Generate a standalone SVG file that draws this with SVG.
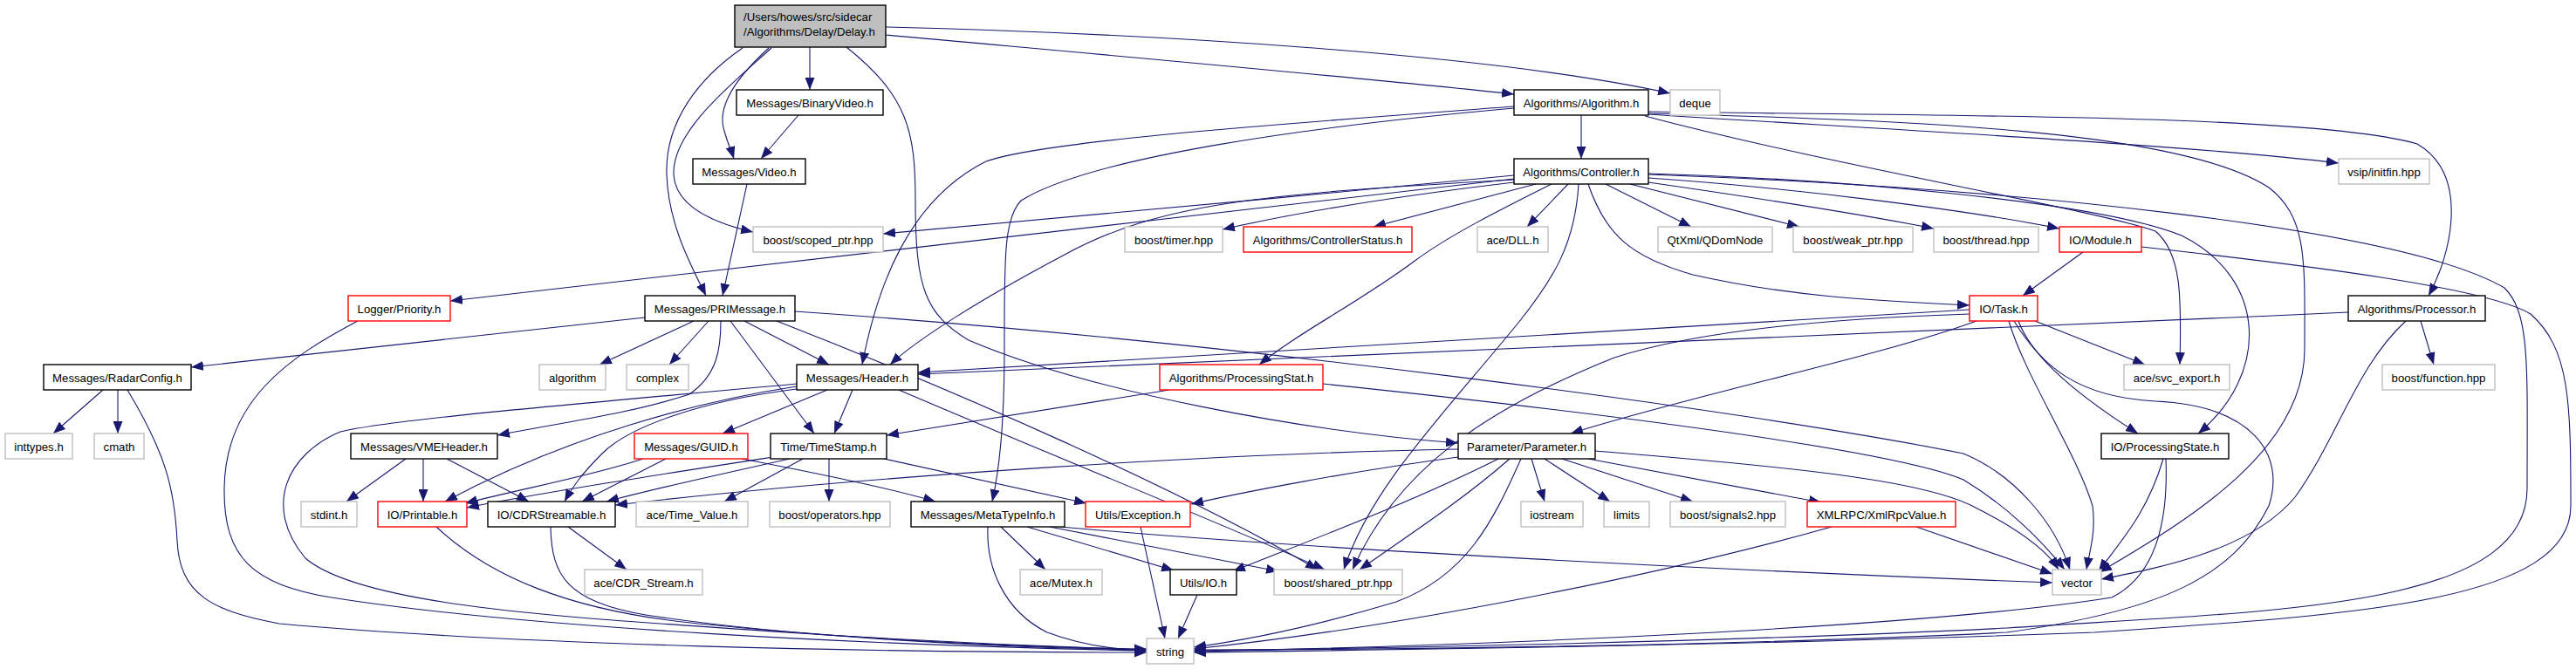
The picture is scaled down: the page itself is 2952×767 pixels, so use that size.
<svg xmlns="http://www.w3.org/2000/svg" width="2952" height="767" viewBox="0 0 2952 767">
<defs>
<marker id="ah" markerUnits="userSpaceOnUse" viewBox="0 0 14 11" refX="14" refY="5.5" markerWidth="14" markerHeight="11" orient="auto">
<path d="M0,0 L14,5.5 L0,11 z" fill="#191970"/>
</marker>
<style>
.e{fill:none;stroke:#191970;stroke-width:1.1;marker-end:url(#ah)}
.nb{fill:#ffffff;stroke:#000000;stroke-width:1.4}
.ng{fill:#ffffff;stroke:#bfbfbf;stroke-width:1.4}
.nr{fill:#ffffff;stroke:#ff0000;stroke-width:1.4}
.root{fill:#bfbfbf;stroke:#000000;stroke-width:1.4}
.t{font-family:"Liberation Sans",Arial,Helvetica,sans-serif;font-size:13.2px;fill:#000000;text-anchor:middle}
.tl{font-family:"Liberation Sans",Arial,Helvetica,sans-serif;font-size:13.2px;fill:#000000;text-anchor:start}
</style>
</defs>
<rect width="2952" height="767" fill="#ffffff"/>
<g id="edges">
<path class="e" d="M928,54 L928,103"/>
<path class="e" d="M881,55 C848,85 820,120 830,150 C834,165 838,172 841,182"/>
<path class="e" d="M884,55 C840,95 770,150 772,200 C774,235 815,255 863,266"/>
<path class="e" d="M851,55 C800,90 762,140 764,200 C766,260 795,310 809,339"/>
<path class="e" d="M1015,40 C1300,66 1550,88 1735,108"/>
<path class="e" d="M1015,31 C1300,38 1700,60 1914,107"/>
<path class="e" d="M970,54 C1040,110 1049,150 1049,230 C1049,330 1060,360 1110,390 C1250,450 1500,495 1671,508"/>
<path class="e" d="M915,132 L872,182"/>
<path class="e" d="M856,211 L828,339"/>
<path class="e" d="M1812,132 L1812,182"/>
<path class="e" d="M1735,122 C1500,140 1200,160 1130,185 C1040,230 1005,330 988,418"/>
<path class="e" d="M1735,124 C1500,145 1250,180 1170,230 C1150,250 1151,300 1151,400 C1151,480 1145,540 1137,575"/>
<path class="e" d="M1889,131 C2100,145 2500,165 2680,187"/>
<path class="e" d="M1889,128 C2200,133 2650,130 2770,165 C2830,200 2810,290 2783,339"/>
<path class="e" d="M1889,130 C2200,138 2500,150 2600,215 C2645,250 2641,300 2641,400 C2641,520 2500,600 2406,656"/>
<path class="e" d="M1885,133 C2100,190 2400,240 2470,265 C2500,290 2500,340 2498,418"/>
<path class="e" d="M1735,201 C1500,225 1200,250 1012,268"/>
<path class="e" d="M1735,205 L516,345"/>
<path class="e" d="M1735,206 C1450,222 1330,232 1220,292 C1120,345 1050,390 1020,418"/>
<path class="e" d="M1735,209 C1600,225 1480,245 1401,263"/>
<path class="e" d="M1760,211 L1574,260"/>
<path class="e" d="M1797,211 L1750,260"/>
<path class="e" d="M1778,211 C1720,240 1660,270 1620,300 C1560,345 1490,380 1443,418"/>
<path class="e" d="M1809,211 C1805,280 1780,320 1740,370 C1650,480 1570,560 1540,653"/>
<path class="e" d="M1840,211 L1938,260"/>
<path class="e" d="M1868,211 L2062,260"/>
<path class="e" d="M1889,209 C2000,225 2120,243 2216,262"/>
<path class="e" d="M1889,204 C2050,215 2250,240 2360,262"/>
<path class="e" d="M1820,211 C1840,270 1870,295 1940,315 C2050,340 2150,345 2257,350"/>
<path class="e" d="M1889,199 C2100,205 2400,230 2500,270 C2600,320 2600,430 2519,497"/>
<path class="e" d="M1889,200 C2300,215 2750,260 2870,330 C2900,360 2896,420 2896,560 C2896,700 2600,700 2300,720 C2000,735 1600,743 1368,746"/>
<path class="e" d="M2387,289 L2318,339"/>
<path class="e" d="M2454,283 C2650,305 2850,330 2900,360 C2945,400 2946,460 2946,580 C2946,690 2700,705 2400,725 C2000,740 1600,745 1368,748"/>
<path class="e" d="M2257,355 C1800,380 1400,405 1052,427"/>
<path class="e" d="M2691,358 C2100,385 1500,410 1052,429"/>
<path class="e" d="M2257,360 C2100,365 1950,378 1850,410 C1700,470 1600,540 1550,653"/>
<path class="e" d="M2265,368 C2150,410 1950,450 1800,497"/>
<path class="e" d="M2332,368 L2458,418"/>
<path class="e" d="M2313,368 C2325,400 2360,440 2450,497"/>
<path class="e" d="M2302,368 C2320,430 2380,520 2398,580 C2402,610 2395,630 2391,653"/>
<path class="e" d="M2308,368 C2340,420 2380,455 2470,460 C2580,465 2620,520 2600,580 C2560,660 2480,700 2300,725 C2000,740 1600,745 1368,745"/>
<path class="e" d="M2774,368 L2789,418"/>
<path class="e" d="M2757,368 C2700,420 2680,500 2630,570 C2580,630 2480,650 2408,664"/>
<path class="e" d="M739,364 L219,421"/>
<path class="e" d="M795,368 L687,418"/>
<path class="e" d="M812,368 L767,418"/>
<path class="e" d="M826,368 C826,400 822,430 790,452 C720,475 640,485 570,499"/>
<path class="e" d="M853,368 L950,418"/>
<path class="e" d="M837,368 L933,497"/>
<path class="e" d="M890,368 C1100,450 1350,560 1510,653"/>
<path class="e" d="M911,357 C1400,390 2000,470 2250,520 C2310,545 2355,600 2372,653"/>
<path class="e" d="M913,440 C700,460 450,480 390,495 C330,520 300,580 350,640 C420,700 700,710 900,725 C1100,738 1250,743 1314,745"/>
<path class="e" d="M913,443 C800,460 650,500 510,575"/>
<path class="e" d="M913,446 C800,460 720,490 690,520 C665,545 655,560 647,575"/>
<path class="e" d="M948,447 L828,497"/>
<path class="e" d="M977,447 L956,497"/>
<path class="e" d="M1030,447 C1200,520 1400,600 1518,653"/>
<path class="e" d="M410,368 C330,410 258,460 257,560 C256,640 290,670 380,685 C600,720 1000,740 1314,746"/>
<path class="e" d="M118,447 L61,497"/>
<path class="e" d="M135,447 L135,497"/>
<path class="e" d="M146,447 C190,520 200,560 203,620 C206,680 240,700 320,715 C600,740 1000,748 1314,748"/>
<path class="e" d="M465,526 L397,575"/>
<path class="e" d="M485,526 L485,575"/>
<path class="e" d="M512,526 L606,575"/>
<path class="e" d="M737,526 C680,545 600,560 533,577"/>
<path class="e" d="M763,526 L667,575"/>
<path class="e" d="M850,526 C950,545 1020,560 1072,575"/>
<path class="e" d="M886,524 C750,545 620,565 535,582"/>
<path class="e" d="M905,526 C820,545 750,560 695,575"/>
<path class="e" d="M920,526 L830,575"/>
<path class="e" d="M950,526 L950,575"/>
<path class="e" d="M1013,526 L1245,577"/>
<path class="e" d="M1671,515 C1400,520 1000,545 705,579"/>
<path class="e" d="M1671,524 C1550,540 1420,565 1365,578"/>
<path class="e" d="M1717,526 C1620,575 1500,620 1413,655"/>
<path class="e" d="M1730,526 C1680,570 1620,610 1558,653"/>
<path class="e" d="M1743,526 C1710,600 1680,660 1600,690 C1500,720 1420,735 1368,742"/>
<path class="e" d="M1755,526 L1770,575"/>
<path class="e" d="M1770,526 L1845,575"/>
<path class="e" d="M1790,526 L1940,575"/>
<path class="e" d="M1820,526 L2087,576"/>
<path class="e" d="M1828,517 C2050,535 2200,550 2260,580 C2310,605 2345,630 2359,653"/>
<path class="e" d="M1516,440 C1900,480 2180,520 2250,550 C2300,580 2340,620 2366,653"/>
<path class="e" d="M1340,447 L1016,499"/>
<path class="e" d="M2196,604 L2352,658"/>
<path class="e" d="M2099,604 C1900,660 1600,720 1368,744"/>
<path class="e" d="M1147,604 L1198,653"/>
<path class="e" d="M1177,604 L1345,654"/>
<path class="e" d="M1203,604 L1465,655"/>
<path class="e" d="M1215,604 C1500,630 2000,655 2352,668"/>
<path class="e" d="M1132,604 C1130,650 1150,700 1200,725 C1240,740 1280,745 1314,746"/>
<path class="e" d="M1307,604 L1335,732"/>
<path class="e" d="M1372,682 L1350,732"/>
<path class="e" d="M500,604 C560,660 650,700 800,715 C1000,735 1200,743 1314,744"/>
<path class="e" d="M631,604 C632,660 650,690 740,705 C900,730 1150,743 1314,745"/>
<path class="e" d="M651,604 L718,653"/>
<path class="e" d="M2479,526 C2460,590 2430,620 2405,655"/>
<path class="e" d="M2482,526 C2485,600 2470,660 2420,685 C2200,720 1700,740 1368,747"/>
</g>
<g id="n_delay"><rect class="root" x="842" y="6" width="173" height="48"/><text class="tl" x="852" y="24">/Users/howes/src/sidecar</text><text class="tl" x="852" y="41">/Algorithms/Delay/Delay.h</text></g>
<g id="n_binvid"><rect class="nb" x="844" y="103" width="168" height="29"/><text class="t" x="928" y="122.5">Messages/BinaryVideo.h</text></g>
<g id="n_algo"><rect class="nb" x="1735" y="103" width="154" height="29"/><text class="t" x="1812" y="122.5">Algorithms/Algorithm.h</text></g>
<g id="n_deque"><rect class="ng" x="1914" y="103" width="57" height="29"/><text class="t" x="1942.5" y="122.5">deque</text></g>
<g id="n_video"><rect class="nb" x="794" y="182" width="129" height="29"/><text class="t" x="858.5" y="201.5">Messages/Video.h</text></g>
<g id="n_ctrl"><rect class="nb" x="1735" y="182" width="154" height="29"/><text class="t" x="1812" y="201.5">Algorithms/Controller.h</text></g>
<g id="n_vsip"><rect class="ng" x="2680" y="182" width="104" height="29"/><text class="t" x="2732" y="201.5">vsip/initfin.hpp</text></g>
<g id="n_scoped"><rect class="ng" x="863" y="260" width="149" height="29"/><text class="t" x="937.5" y="279.5">boost/scoped_ptr.hpp</text></g>
<g id="n_timer"><rect class="ng" x="1289" y="260" width="112" height="29"/><text class="t" x="1345" y="279.5">boost/timer.hpp</text></g>
<g id="n_ctrlstatus"><rect class="nr" x="1425" y="260" width="193" height="29"/><text class="t" x="1521.5" y="279.5">Algorithms/ControllerStatus.h</text></g>
<g id="n_dll"><rect class="ng" x="1693" y="260" width="81" height="29"/><text class="t" x="1733.5" y="279.5">ace/DLL.h</text></g>
<g id="n_qdom"><rect class="ng" x="1900" y="260" width="131" height="29"/><text class="t" x="1965.5" y="279.5">QtXml/QDomNode</text></g>
<g id="n_weak"><rect class="ng" x="2055" y="260" width="137" height="29"/><text class="t" x="2123.5" y="279.5">boost/weak_ptr.hpp</text></g>
<g id="n_thread"><rect class="ng" x="2216" y="260" width="120" height="29"/><text class="t" x="2276" y="279.5">boost/thread.hpp</text></g>
<g id="n_module"><rect class="nr" x="2360" y="260" width="94" height="29"/><text class="t" x="2407" y="279.5">IO/Module.h</text></g>
<g id="n_logger"><rect class="nr" x="399" y="339" width="117" height="29"/><text class="t" x="457.5" y="358.5">Logger/Priority.h</text></g>
<g id="n_primsg"><rect class="nb" x="739" y="339" width="172" height="29"/><text class="t" x="825" y="358.5">Messages/PRIMessage.h</text></g>
<g id="n_task"><rect class="nr" x="2257" y="339" width="78" height="29"/><text class="t" x="2296" y="358.5">IO/Task.h</text></g>
<g id="n_processor"><rect class="nb" x="2691" y="339" width="157" height="29"/><text class="t" x="2769.5" y="358.5">Algorithms/Processor.h</text></g>
<g id="n_radar"><rect class="nb" x="50" y="418" width="169" height="29"/><text class="t" x="134.5" y="437.5">Messages/RadarConfig.h</text></g>
<g id="n_algorithm"><rect class="ng" x="618" y="418" width="76" height="29"/><text class="t" x="656" y="437.5">algorithm</text></g>
<g id="n_complex"><rect class="ng" x="718" y="418" width="71" height="29"/><text class="t" x="753.5" y="437.5">complex</text></g>
<g id="n_header"><rect class="nb" x="913" y="418" width="139" height="29"/><text class="t" x="982.5" y="437.5">Messages/Header.h</text></g>
<g id="n_pstat"><rect class="nr" x="1329" y="418" width="187" height="29"/><text class="t" x="1422.5" y="437.5">Algorithms/ProcessingStat.h</text></g>
<g id="n_svcexp"><rect class="ng" x="2434" y="418" width="121" height="29"/><text class="t" x="2494.5" y="437.5">ace/svc_export.h</text></g>
<g id="n_function"><rect class="ng" x="2730" y="418" width="129" height="29"/><text class="t" x="2794.5" y="437.5">boost/function.hpp</text></g>
<g id="n_inttypes"><rect class="ng" x="6" y="497" width="77" height="29"/><text class="t" x="44.5" y="516.5">inttypes.h</text></g>
<g id="n_cmath"><rect class="ng" x="108" y="497" width="57" height="29"/><text class="t" x="136.5" y="516.5">cmath</text></g>
<g id="n_vme"><rect class="nb" x="402" y="497" width="168" height="29"/><text class="t" x="486" y="516.5">Messages/VMEHeader.h</text></g>
<g id="n_guid"><rect class="nr" x="727" y="497" width="130" height="29"/><text class="t" x="792" y="516.5">Messages/GUID.h</text></g>
<g id="n_timestamp"><rect class="nb" x="883" y="497" width="133" height="29"/><text class="t" x="949.5" y="516.5">Time/TimeStamp.h</text></g>
<g id="n_param"><rect class="nb" x="1671" y="497" width="157" height="29"/><text class="t" x="1749.5" y="516.5">Parameter/Parameter.h</text></g>
<g id="n_pstate"><rect class="nb" x="2408" y="497" width="146" height="29"/><text class="t" x="2481" y="516.5">IO/ProcessingState.h</text></g>
<g id="n_stdint"><rect class="ng" x="345" y="575" width="64" height="29"/><text class="t" x="377" y="594.5">stdint.h</text></g>
<g id="n_printable"><rect class="nr" x="433" y="575" width="102" height="29"/><text class="t" x="484" y="594.5">IO/Printable.h</text></g>
<g id="n_cdr"><rect class="nb" x="559" y="575" width="146" height="29"/><text class="t" x="632" y="594.5">IO/CDRStreamable.h</text></g>
<g id="n_timevalue"><rect class="ng" x="729" y="575" width="128" height="29"/><text class="t" x="793" y="594.5">ace/Time_Value.h</text></g>
<g id="n_operators"><rect class="ng" x="882" y="575" width="138" height="29"/><text class="t" x="951" y="594.5">boost/operators.hpp</text></g>
<g id="n_meta"><rect class="nb" x="1044" y="575" width="176" height="29"/><text class="t" x="1132" y="594.5">Messages/MetaTypeInfo.h</text></g>
<g id="n_exception"><rect class="nr" x="1244" y="575" width="120" height="29"/><text class="t" x="1304" y="594.5">Utils/Exception.h</text></g>
<g id="n_iostream"><rect class="ng" x="1743" y="575" width="71" height="29"/><text class="t" x="1778.5" y="594.5">iostream</text></g>
<g id="n_limits"><rect class="ng" x="1838" y="575" width="52" height="29"/><text class="t" x="1864" y="594.5">limits</text></g>
<g id="n_signals2"><rect class="ng" x="1914" y="575" width="132" height="29"/><text class="t" x="1980" y="594.5">boost/signals2.hpp</text></g>
<g id="n_xmlrpc"><rect class="nr" x="2071" y="575" width="170" height="29"/><text class="t" x="2156" y="594.5">XMLRPC/XmlRpcValue.h</text></g>
<g id="n_cdrstream"><rect class="ng" x="670" y="653" width="135" height="29"/><text class="t" x="737.5" y="672.5">ace/CDR_Stream.h</text></g>
<g id="n_mutex"><rect class="ng" x="1169" y="653" width="94" height="29"/><text class="t" x="1216" y="672.5">ace/Mutex.h</text></g>
<g id="n_utilsio"><rect class="nb" x="1341" y="653" width="76" height="29"/><text class="t" x="1379" y="672.5">Utils/IO.h</text></g>
<g id="n_shared"><rect class="ng" x="1460" y="653" width="147" height="29"/><text class="t" x="1533.5" y="672.5">boost/shared_ptr.hpp</text></g>
<g id="n_vector"><rect class="ng" x="2352" y="653" width="56" height="29"/><text class="t" x="2380" y="672.5">vector</text></g>
<g id="n_string"><rect class="ng" x="1314" y="732" width="54" height="29"/><text class="t" x="1341" y="751.5">string</text></g>
</svg>
